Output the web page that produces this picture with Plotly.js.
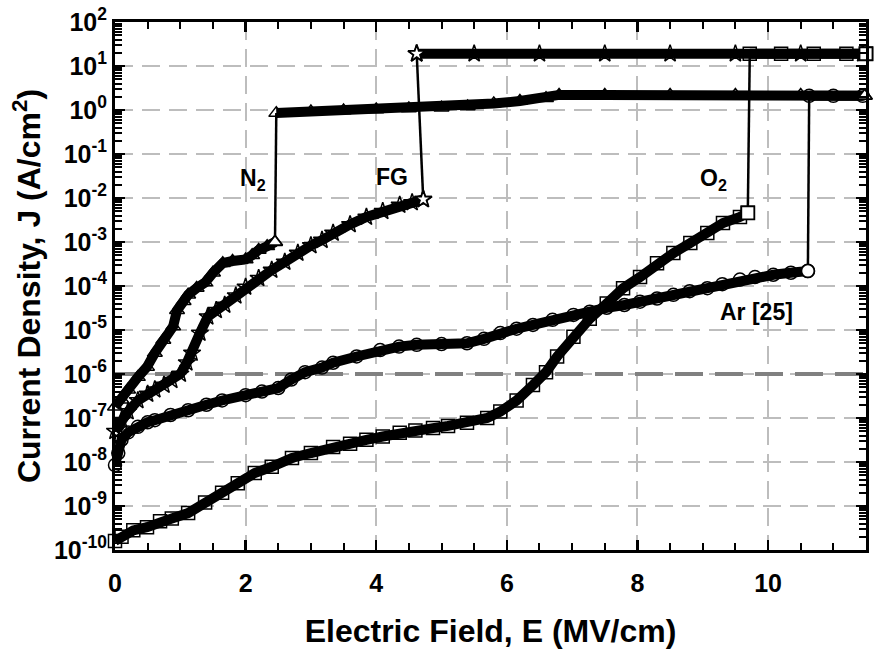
<!DOCTYPE html>
<html>
<head>
<meta charset="utf-8">
<script src="https://cdn.plot.ly/plotly-3.0.1.min.js"></script>
<style>html,body{margin:0;padding:0;background:#fff;}#chart{width:876px;height:658px;}</style>
</head>
<body>
<div id="chart"></div>
<script>
// ---- data ----
// N2 : before breakdown
const n2E = [0, 0.1, 0.2, 0.35, 0.49, 0.61, 0.74, 0.89, 0.95, 1.05, 1.12, 1.25, 1.38, 1.5, 1.65, 1.8, 2.0, 2.1, 2.2, 2.33, 2.45];
const n2J = [1.8e-7, 2.6e-7, 4.4e-7, 8.5e-7, 1.45e-6, 3.0e-6, 5.9e-6, 1.2e-5, 2.8e-5, 4.5e-5, 6.3e-5, 9e-5, 1.2e-4, 2.0e-4, 3.3e-4, 3.7e-4, 4.0e-4, 5.0e-4, 6.6e-4, 8.0e-4, 1.0e-3];
// N2 : after breakdown
const n2bE = [2.47, 3.0, 3.5, 4.0, 4.5, 5.0, 5.4, 5.8, 6.2, 6.6, 6.8, 7.5, 8.5, 9.5, 10.5, 11.48];
const n2bJ = [0.85, 0.92, 0.98, 1.03, 1.08, 1.13, 1.2, 1.4, 1.6, 1.85, 2.2, 2.2, 2.2, 2.2, 2.2, 2.1];

// FG
const fgE = [0, 0.1, 0.2, 0.35, 0.5, 0.61, 0.75, 0.87, 1.0, 1.1, 1.18, 1.3, 1.42, 1.55, 1.68, 1.85, 2.0, 2.2, 2.4, 2.6, 2.8, 3.0, 3.17, 3.34, 3.6, 3.85, 4.1, 4.36, 4.55, 4.72];
const fgJ = [5e-8, 8.9e-8, 1.4e-7, 2.5e-7, 3.5e-7, 4.4e-7, 5.6e-7, 7.2e-7, 1.0e-6, 1.8e-6, 3e-6, 8.5e-6, 2.0e-5, 2.8e-5, 3.7e-5, 6e-5, 9.5e-5, 1.5e-4, 2.3e-4, 3.5e-4, 5.6e-4, 8.3e-4, 1.1e-3, 1.6e-3, 2.5e-3, 3.7e-3, 5e-3, 6.9e-3, 7.9e-3, 9.3e-3];
const fgbE = [4.62, 5.5, 6.5, 7.5, 8.5, 9.5, 10.5, 11.45];
const fgbJ = [19, 19, 19, 19, 19, 19, 19, 19];

// O2
const o2E = [0, 0.1, 0.28, 0.49, 0.69, 0.87, 1.12, 1.38, 1.64, 1.88, 2.14, 2.4, 2.71, 3.0, 3.34, 3.6, 3.85, 4.1, 4.36, 4.6, 4.87, 5.1, 5.39, 5.7, 5.9, 6.15, 6.4, 6.6, 6.77, 7.02, 7.27, 7.53, 7.78, 8.04, 8.3, 8.55, 8.81, 9.07, 9.31, 9.57, 9.69];
const o2J = [1.6e-10, 2e-10, 2.8e-10, 3.3e-10, 4.5e-10, 5.2e-10, 6.9e-10, 1.2e-9, 2.0e-9, 3.3e-9, 5.6e-9, 7.8e-9, 1.23e-8, 1.6e-8, 2.2e-8, 2.6e-8, 3.2e-8, 3.8e-8, 4.6e-8, 5.2e-8, 5.9e-8, 6.6e-8, 7.8e-8, 1.0e-7, 1.4e-7, 2.5e-7, 5.6e-7, 1.1e-6, 2.5e-6, 7.0e-6, 1.8e-5, 4.0e-5, 8.9e-5, 1.6e-4, 3.3e-4, 5.6e-4, 9.5e-4, 1.6e-3, 2.7e-3, 3.7e-3, 4.6e-3];
const o2bE = [9.72, 10.2, 10.7, 11.2, 11.5];
const o2bJ = [19, 19, 19, 19, 19];

// Ar [25]
const arE = [0, 0.05, 0.1, 0.2, 0.35, 0.5, 0.61, 0.85, 1.12, 1.4, 1.64, 2.0, 2.25, 2.5, 2.7, 2.91, 3.17, 3.34, 3.7, 4.06, 4.35, 4.62, 5.0, 5.39, 5.65, 5.9, 6.15, 6.4, 6.7, 7.02, 7.27, 7.53, 7.8, 8.04, 8.3, 8.55, 8.8, 9.07, 9.3, 9.57, 9.8, 10.08, 10.35, 10.61];
const arJ = [8.5e-9, 1.6e-8, 3.2e-8, 4.7e-8, 6.3e-8, 8e-8, 8.9e-8, 1.17e-7, 1.5e-7, 2.0e-7, 2.5e-7, 3.3e-7, 4e-7, 4.8e-7, 7.5e-7, 1.1e-6, 1.4e-6, 1.8e-6, 2.5e-6, 3.5e-6, 4.2e-6, 4.6e-6, 4.8e-6, 5e-6, 6.3e-6, 8.5e-6, 1.07e-5, 1.3e-5, 1.7e-5, 2.2e-5, 2.6e-5, 3.2e-5, 3.7e-5, 4.4e-5, 5.2e-5, 6.3e-5, 7.6e-5, 8.9e-5, 1.1e-4, 1.4e-4, 1.6e-4, 1.8e-4, 2.0e-4, 2.2e-4];
const arbE = [10.63, 11.0, 11.45];
const arbJ = [2.1, 2.1, 2.1];

// reference level
const refLevel = 1e-6;
const xRange = [0, 11.5];
const yRangeLog = [-10, 2];

// tick labels
const yTickVals = [1e-10, 1e-9, 1e-8, 1e-7, 1e-6, 1e-5, 1e-4, 1e-3, 1e-2, 1e-1, 1e0, 1e1, 1e2];
const yTickText = ['10<sup>-10</sup>', '10<sup>-9</sup>', '10<sup>-8</sup>', '10<sup>-7</sup>', '10<sup>-6</sup>', '10<sup>-5</sup>', '10<sup>-4</sup>', '10<sup>-3</sup>', '10<sup>-2</sup>', '10<sup>-1</sup>', '10<sup>0</sup>', '10<sup>1</sup>', '10<sup>2</sup>'];
const minorDigits = [2, 3, 4, 5, 6, 7, 8, 9];

// labels
const labels = [
  {text: 'N<sub>2</sub>', E: 2.11, J: -1.59},
  {text: 'FG', E: 4.24, J: -1.52},
  {text: 'O<sub>2</sub>', E: 9.16, J: -1.59},
  {text: 'Ar [25]', E: 9.83, J: -4.59}
];

// ---- styling ----
const BAND = 10, MSIZE = 13;
function band(x, y, sym) {
  return {x: x, y: y, type: 'scatter', mode: 'lines+markers', cliponaxis: false,
    line: {color: '#000', width: BAND},
    marker: {symbol: sym + '-open', size: MSIZE, color: '#000', line: {width: 1.5, color: '#000'}},
    hoverinfo: 'skip', showlegend: false};
}
function jump(x1, y1, x2, y2) {
  return {x: [x1[x1.length - 1], x2[0]], y: [y1[y1.length - 1], y2[0]], type: 'scatter', mode: 'lines',
    line: {color: '#000', width: 2.5}, hoverinfo: 'skip', showlegend: false};
}
function endMark(x, y, sym) {
  return {x: [x], y: [y], type: 'scatter', mode: 'markers', cliponaxis: false,
    marker: {symbol: sym, size: MSIZE, color: '#fff', line: {width: 1.8, color: '#000'}},
    hoverinfo: 'skip', showlegend: false};
}
const last = a => a[a.length - 1];

// minor tick positions on the log axis
const yMinor = [];
yTickVals.slice(0, -1).forEach(d => minorDigits.forEach(m => yMinor.push(d * m)));

const traces = [
  {x: xRange, y: [refLevel, refLevel], type: 'scatter', mode: 'lines',
   line: {color: '#808080', width: 4, dash: '28px,12px'}, hoverinfo: 'skip', showlegend: false},
  jump(n2E, n2J, n2bE, n2bJ), jump(fgE, fgJ, fgbE, fgbJ), jump(o2E, o2J, o2bE, o2bJ), jump(arE, arJ, arbE, arbJ),
  band(arE, arJ, 'circle'), band(o2E, o2J, 'square'), band(fgE, fgJ, 'star'), band(n2E, n2J, 'triangle-up'),
  band(n2bE, n2bJ, 'triangle-up'), band(arbE, arbJ, 'circle'), band(fgbE, fgbJ, 'star'), band(o2bE, o2bJ, 'square'),
  endMark(last(n2E), last(n2J), 'triangle-up'), endMark(last(fgE), last(fgJ), 'star'),
  endMark(last(o2E), last(o2J), 'square'), endMark(last(arE), last(arJ), 'circle'),
  endMark(last(n2bE), last(n2bJ), 'triangle-up'), endMark(last(o2bE), last(o2bJ), 'square'),
  endMark(fgbE[0], fgbJ[0], 'star')
];

const FONT = 'Liberation Sans, Arial, sans-serif';
const layout = {
  width: 876, height: 658,
  margin: {l: 115, r: 10, t: 22, b: 108},
  paper_bgcolor: '#fff', plot_bgcolor: '#fff',
  font: {family: FONT, color: '#000'},
  showlegend: false,
  xaxis: {
    range: xRange, tick0: 0, dtick: 2, ticks: 'inside', ticklen: 10, tickwidth: 2.5, tickcolor: '#000',
    showline: true, linewidth: 3, linecolor: '#000', mirror: 'ticks',
    showgrid: true, gridcolor: '#bdbdbd', gridwidth: 2, griddash: '18px,9px',
    zeroline: false,
    minor: {tick0: 0, dtick: 0.5, ticks: 'inside', ticklen: 7, tickwidth: 2, tickcolor: '#000', showgrid: false},
    tickfont: {size: 25, family: FONT, weight: 'bold'}, ticklabelstandoff: 9,
    title: {text: 'Electric Field, E (MV/cm)', font: {size: 32, family: FONT, weight: 'bold'}, standoff: 24}
  },
  yaxis: {
    type: 'log', range: yRangeLog, tickmode: 'array', tickvals: yTickVals, ticktext: yTickText,
    ticks: 'inside', ticklen: 10, tickwidth: 2.5, tickcolor: '#000',
    showline: true, linewidth: 3, linecolor: '#000', mirror: 'ticks',
    showgrid: true, gridcolor: '#bdbdbd', gridwidth: 2, griddash: '18px,9px',
    zeroline: false,
    minor: {tickmode: 'array', tickvals: yMinor, ticks: 'inside', ticklen: 7, tickwidth: 2, tickcolor: '#000', showgrid: false},
    tickfont: {size: 25, family: FONT, weight: 'bold'}, ticklabelstandoff: 0,
    title: {text: 'Current Density, J (A/cm<sup>2</sup>)', font: {size: 32, family: FONT, weight: 'bold'}, standoff: 4}
  },
  annotations: labels.map(l => ({
    text: l.text, x: l.E, y: l.J, xref: 'x', yref: 'y', showarrow: false,
    font: {size: 23, family: FONT, weight: 'bold', color: '#000'}
  }))
};

Plotly.newPlot('chart', traces, layout, {staticPlot: true, displayModeBar: false});
</script>
</body>
</html>
